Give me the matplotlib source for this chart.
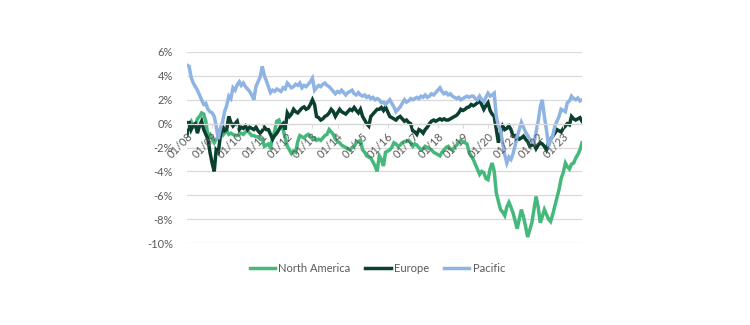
import numpy as np
import pandas as pd
import matplotlib
matplotlib.use("Agg")
import matplotlib.pyplot as plt
import matplotlib.dates as mdates
from matplotlib.ticker import FuncFormatter

plt.rcParams['font.family'] = ['Lato', 'DejaVu Sans']

# monthly observations, Jan 2008 .. Oct 2023 (relative performance, %)
dates = pd.date_range('2008-01-01', periods=190, freq='MS')

north_america = [
    0.1, 0.0, 0.2, -0.3, -0.2, 0.4, 0.6, 0.9, 0.8, 0.2, -1.05, -0.9,
    -1.3, -1.6, -1.3, -1.2, -0.9, -1.0, -0.8, -0.6, -0.9, -0.8, -0.9, -1.0,
    -1.0, -0.9, -0.8, -0.9, -0.7, -0.6, -0.8, -1.0, -1.0, -1.1, -1.1, -1.3,
    -1.3, -1.9, -1.8, -1.7, -2.0, -1.2, -0.6, 0.2, 0.3, -0.2, -0.5, -1.2,
    -1.9, -2.2, -2.5, -2.3, -2.4, -1.5, -1.0, -1.1, -1.2, -1.0, -0.9, -1.1,
    -1.3, -1.2, -1.4, -1.3, -1.4, -1.2, -1.0, -0.9, -0.5, -0.7, -0.9, -1.3,
    -1.5, -1.6, -1.8, -1.9, -2.0, -2.1, -2.2, -2.0, -1.9, -1.6, -1.5, -1.4,
    -2.2, -2.4, -2.7, -2.8, -2.9, -3.2, -3.55, -4.0, -2.7, -3.0, -3.55, -2.4,
    -2.3, -2.2, -2.0, -1.6, -1.7, -1.9, -1.8, -1.6, -1.5, -1.5, -1.4, -1.6,
    -1.9, -1.7, -1.8, -2.0, -2.2, -2.1, -1.9, -2.0, -2.1, -2.2, -2.4, -2.5,
    -2.6, -2.7, -2.4, -2.2, -2.0, -1.9, -2.1, -2.2, -2.0, -1.8, -1.6, -1.4,
    -1.5, -1.6, -1.7, -2.4, -2.7, -3.0, -3.4, -3.8, -4.25, -4.0, -4.1, -4.6,
    -4.7, -3.8, -3.3, -4.0, -5.8, -6.5, -7.2, -7.4, -7.7, -7.0, -6.6, -7.0,
    -7.5, -8.2, -8.8, -8.0, -7.2, -7.8, -8.6, -9.5, -8.9, -8.3, -7.2, -6.1,
    -7.0, -8.3, -7.8, -7.2, -7.6, -8.0, -8.2, -7.6, -6.9, -6.2, -5.5, -4.6,
    -4.1, -3.3, -3.6, -3.8, -3.4, -3.3, -2.9, -2.6, -2.2, -1.6,
]

europe = [
    -1.0, 0.2, -0.5, -0.1, 0.0, -0.8, -0.2, 0.2, -0.5, -0.9, -1.3, -2.4,
    -3.3, -4.0, -2.2, -2.4, -1.05, -0.2, -0.6, -0.5, 0.6, 0.1, -0.2, 0.0,
    0.2, -0.5, -0.3, -0.4, -0.2, -0.5, -0.3, -0.4, -0.5, -0.3, -0.6, -0.8,
    -0.6, -0.3, -0.5, -0.5, -0.9, -1.3, -1.0, -0.8, -0.5, -0.2, 0.0, -0.5,
    0.9, 0.6, 0.8, 1.2, 1.0, 0.9, 1.1, 1.3, 1.4, 1.2, 1.3, 1.6,
    2.0, 1.6, 0.6, 0.5, 0.3, 0.4, 0.6, 0.7, 0.9, 1.2, 1.0, 0.6,
    0.9, 1.2, 1.0, 0.9, 0.8, 1.0, 1.2, 1.1, 1.35, 1.1, 0.9, 1.2,
    0.6, 0.3, 0.0, -0.2, 0.6, 0.8, 1.0, 1.2, 1.2, 1.35, 1.1, 1.4,
    1.0, 0.6, 0.5, 0.4, 0.3, 0.5, 0.6, 0.4, 0.2, 0.3, 0.1, 0.0,
    -0.6, -0.7, -0.9, -0.5, -0.6, -0.8, -0.5, -0.3, 0.0, 0.2, 0.3, 0.2,
    0.3, 0.4, 0.3, 0.4, 0.3, 0.3, 0.4, 0.5, 0.6, 0.7, 0.9, 1.2,
    1.1, 1.2, 1.35, 1.4, 1.6, 1.5, 1.6, 1.75, 1.9, 1.6, 1.2, 1.5,
    1.75, 1.1, 0.8, 0.6, -0.5, -1.6, -0.8, -0.2, -0.5, -0.4, -0.2, -0.5,
    -1.05, -1.0, -1.1, -1.3, -1.2, -1.05, -1.3, -1.5, -1.9, -1.8, -1.7, -2.1,
    -1.8, -1.6, -1.7, -1.9, -2.2, -1.6, -1.3, -1.05, -0.8, -0.5, -0.6, -0.7,
    -0.4, -0.2, 0.0, -0.1, 0.6, 0.4, 0.3, 0.4, 0.5, 0.2,
]

pacific = [
    4.9, 4.8, 3.9, 3.4, 3.1, 2.8, 2.4, 2.0, 1.6, 1.7, 1.2, 1.0,
    0.9, 0.6, -0.2, -1.3, -0.4, 0.1, 1.0, 1.5, 2.3, 2.1, 3.0, 2.8,
    3.25, 3.5, 3.2, 3.4, 3.1, 2.9, 2.7, 2.4, 2.0, 3.1, 3.5, 3.9,
    4.8, 4.0, 3.6, 3.1, 2.6, 2.8, 2.7, 2.9, 2.8, 2.7, 3.0, 2.9,
    3.4, 3.2, 3.0, 3.1, 3.3, 3.2, 3.4, 3.0, 3.2, 3.1, 3.3, 3.5,
    3.8, 2.8, 3.0, 3.2, 3.1, 3.3, 3.4, 3.2, 3.1, 2.9, 2.7, 2.5,
    2.7, 2.6, 2.8, 2.6, 2.4, 2.6, 2.7, 2.8, 2.5, 2.4, 2.6, 2.4,
    2.3, 2.4, 2.2, 2.3, 2.1, 2.2, 2.0, 2.1, 2.0, 1.75, 1.8, 1.6,
    1.8, 2.0, 1.7, 1.4, 1.0, 1.2, 1.4, 1.7, 2.0, 1.8, 1.9, 2.1,
    2.0, 2.1, 2.2, 2.1, 2.3, 2.2, 2.4, 2.2, 2.3, 2.5, 2.4, 2.6,
    2.8, 3.0, 2.7, 2.5, 2.6, 2.4, 2.5, 2.3, 2.2, 2.1, 2.2, 2.0,
    2.1, 2.2, 2.3, 2.2, 2.3, 2.3, 2.1, 2.0, 2.3, 2.0, 1.85, 2.2,
    2.55, 2.3, 2.4, 2.55, 0.6, -0.2, -0.5, -1.6, -2.6, -3.3, -2.8, -3.0,
    -2.5, -1.8, -1.05, -0.5, 0.1, -0.3, -0.7, -1.0, -1.3, -1.5, -1.6, -0.7,
    0.2, 1.4, 2.0, 0.6, -0.5, -1.9, -1.4, -1.0, -0.2, 0.2, 0.6, 1.2,
    1.1, 1.0, 1.75, 1.9, 2.3, 2.1, 2.0, 2.15, 1.9, 2.0,
]

series_names = ['North America', 'Europe', 'Pacific']
series_colors = ['#45B97C', '#0B3F30', '#8FB4E3']
y_ticks = [6, 4, 2, 0, -2, -4, -6, -8, -10]

text_color = '#595959'

fig = plt.figure(figsize=(7.5, 3.25), dpi=100)
ax = fig.add_axes([0.2493, 0.2523, 0.5267, 0.5877])

for name, vals, col in zip(series_names, [north_america, europe, pacific], series_colors):
    ax.plot(dates, vals, color=col, lw=2.5, label=name, solid_joinstyle='miter')

ax.set_xlim(dates[0], dates[-1])
ax.set_ylim(-10, 6)
ax.set_yticks(y_ticks)
ax.yaxis.set_major_formatter(FuncFormatter(lambda v, p: f'{v:.0f}%'))
ax.grid(axis='y', color='#D9D9D9', lw=0.9)
ax.grid(axis='x', visible=False)

for s in ['left', 'right', 'top']:
    ax.spines[s].set_visible(False)
# category axis crosses at zero
ax.spines['bottom'].set_position(('data', 0))
ax.spines['bottom'].set_color('#D9D9D9')
ax.spines['bottom'].set_linewidth(0.9)

ax.xaxis.set_major_locator(mdates.YearLocator())
ax.xaxis.set_major_formatter(mdates.DateFormatter('%m/%y'))
ax.tick_params(axis='x', length=3, color='#D9D9D9', labelsize=8,
               labelcolor=text_color, pad=2)
for lbl in ax.get_xticklabels():
    lbl.set_rotation(45)
    lbl.set_ha('right')
    lbl.set_va('top')
    lbl.set_rotation_mode('anchor')
ax.xaxis.set_zorder(5)

ax.tick_params(axis='y', length=0, labelsize=8, labelcolor=text_color, pad=10)

fig.legend(loc='center', bbox_to_anchor=(0.503, 0.175), ncol=3, frameon=False,
           fontsize=8, labelcolor=text_color, handlelength=2.3,
           handletextpad=0.3, columnspacing=1.3)

fig.savefig('out.png', dpi=100)
